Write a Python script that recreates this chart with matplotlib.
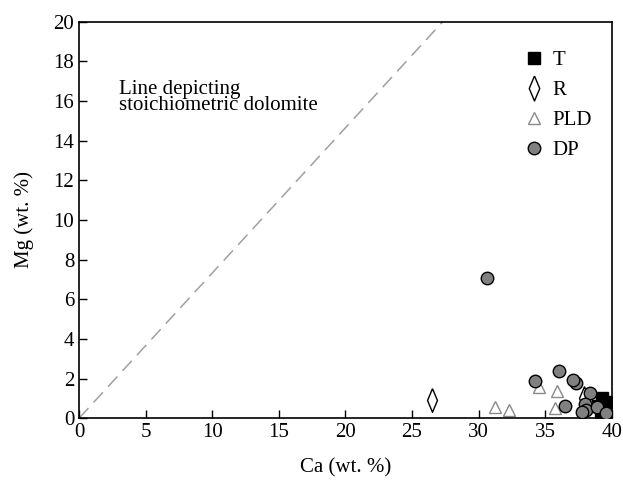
import matplotlib
matplotlib.use("Agg")
import matplotlib.pyplot as plt
from matplotlib.lines import Line2D

plt.rcParams['font.family'] = ['Liberation Serif', 'DejaVu Serif']

# T samples
t_ca = [39.0, 39.3, 39.6, 39.5, 39.2]
t_mg = [0.6, 1.0, 0.8, 0.4, 0.3]
# R samples
r_ca = [26.5, 37.9]
r_mg = [0.9, 1.0]
# PLD samples
pld_ca = [31.2, 32.3, 34.5, 35.85, 35.7]
pld_mg = [0.55, 0.4, 1.55, 1.36, 0.5]
# DP samples
dp_ca = [30.6, 34.2, 36.0, 37.3, 37.1, 36.5, 38.4, 38.0, 38.1, 37.8, 38.9, 39.55]
dp_mg = [7.06, 1.88, 2.37, 1.8, 1.92, 0.62, 1.25, 0.74, 0.4, 0.32, 0.57, 0.27]
# stoichiometric dolomite line
line_ca = [0, 27.3]
line_mg = [0, 20]

FS = 15

fig = plt.figure(figsize=(6.23, 4.84), dpi=100)
ax = fig.add_axes([0.127, 0.136, 0.855, 0.819])

thin_diamond = [(0, 1), (0.42, 0), (0, -1), (-0.42, 0), (0, 1)]

ax.plot(line_ca, line_mg, color='#a0a0a0', lw=1.1, dashes=(9, 5), zorder=1)

ax.plot(pld_ca, pld_mg, ls='none', marker='^', ms=9, mfc='white',
        mec='#8a8a8a', mew=1.0, zorder=2)
ax.plot(r_ca, r_mg, ls='none', marker=thin_diamond, ms=17, mfc='white',
        mec='black', mew=1.0, zorder=3)
ax.plot(t_ca, t_mg, ls='none', marker='s', ms=8, mfc='black',
        mec='black', zorder=3)
ax.plot(dp_ca, dp_mg, ls='none', marker='o', ms=9, mfc='#808080',
        mec='black', mew=1.0, zorder=4)

ax.text(3.0, 17.05, 'Line depicting\nstoichiometric dolomite', fontsize=FS,
        va='top', ha='left', linespacing=0.8)

handles = [
    Line2D([], [], ls='none', marker='s', ms=8.5, mfc='black', mec='black'),
    Line2D([], [], ls='none', marker=thin_diamond, ms=18, mfc='white', mec='black'),
    Line2D([], [], ls='none', marker='^', ms=8.5, mfc='white', mec='#8a8a8a'),
    Line2D([], [], ls='none', marker='o', ms=9, mfc='#808080', mec='black'),
]
ax.legend(handles, ['T', 'R', 'PLD', 'DP'], loc='upper right', frameon=False,
          fontsize=FS, handlelength=0.8, handletextpad=0.5, labelspacing=0.5,
          borderaxespad=0.3, bbox_to_anchor=(0.99, 0.965))

ax.set_xlim(0, 40)
ax.set_ylim(0, 20)
ax.set_xticks(range(0, 41, 5))
ax.set_yticks(range(0, 21, 2))
ax.tick_params(direction='in', length=6, width=1, labelsize=FS, top=False, right=False)
ax.set_xlabel('Ca (wt. %)', fontsize=FS, labelpad=12)
ax.set_ylabel('Mg (wt. %)', fontsize=FS, labelpad=14)
for s in ax.spines.values():
    s.set_linewidth(1.2)

fig.savefig('out.png', dpi=100)
